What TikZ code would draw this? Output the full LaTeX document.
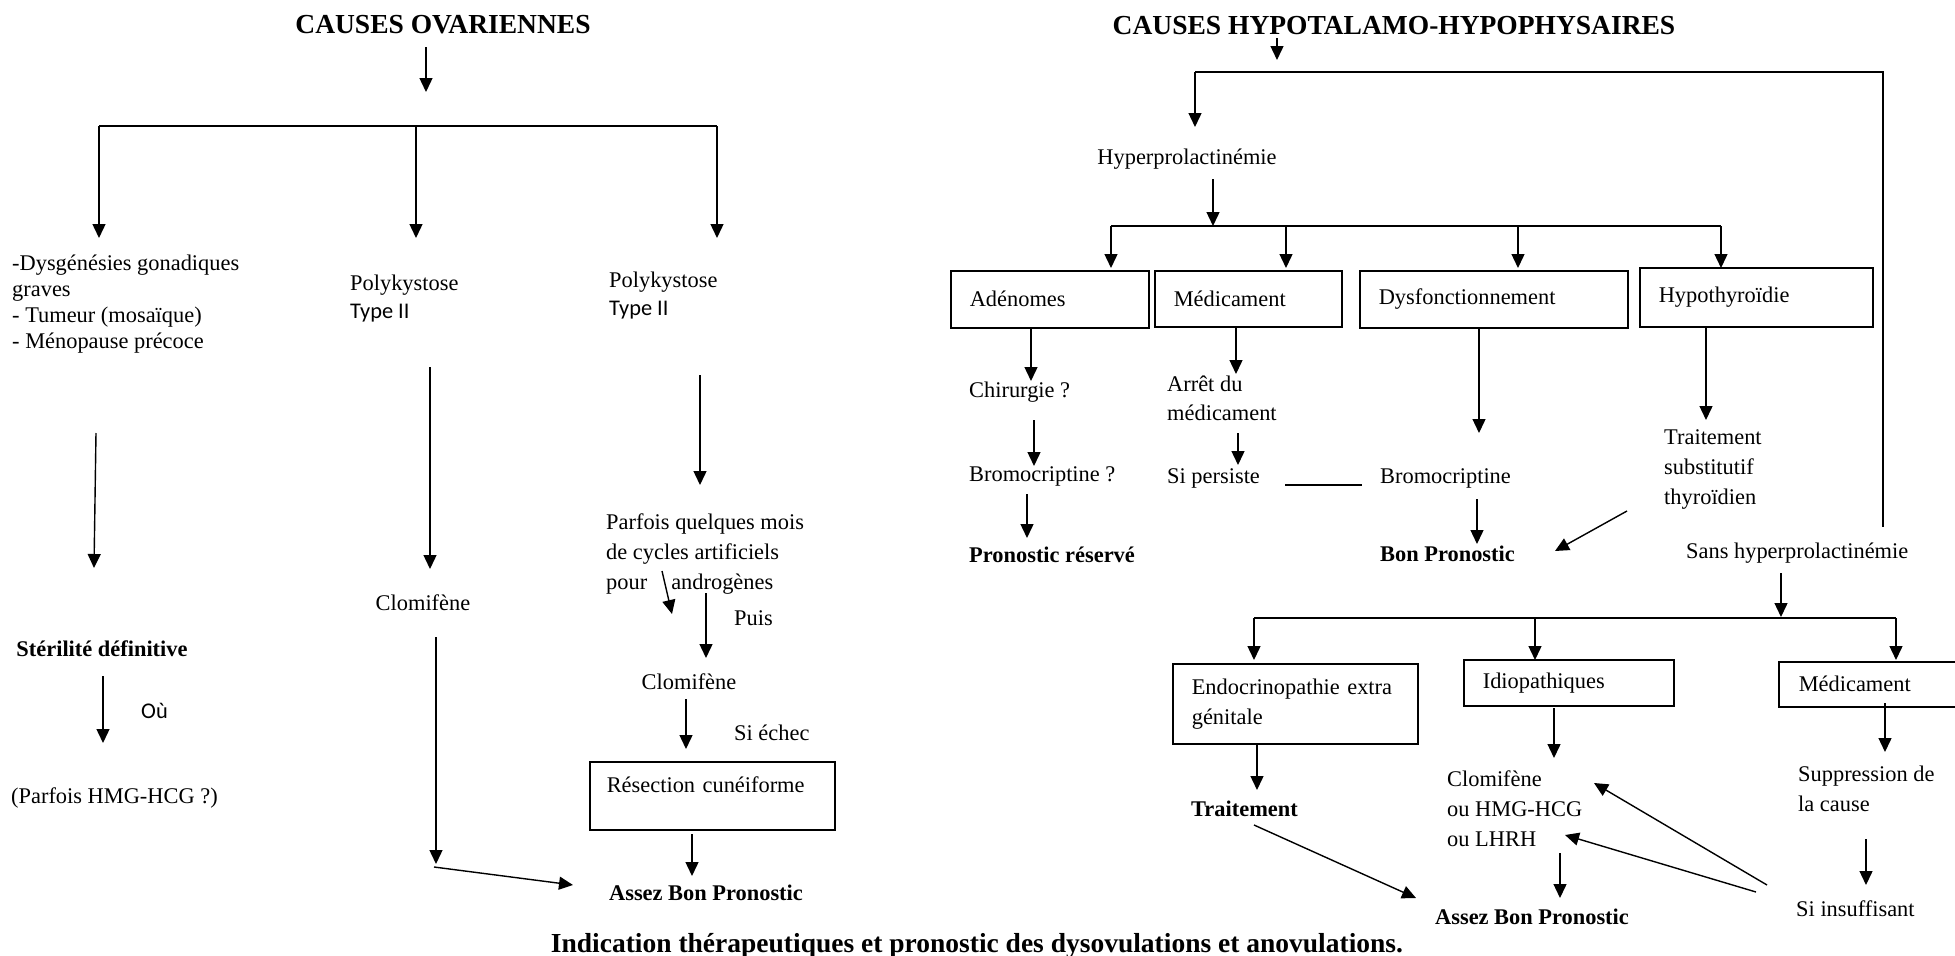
\documentclass[tikz,border=0pt]{standalone}
\usepackage{fontspec}
\setmainfont{Liberation Serif}
\newfontfamily\calibri{Carlito}
\usetikzlibrary{arrows.meta}
\begin{document}
\begin{tikzpicture}[x=1pt,y=-1pt,
  con/.style={line width=1.4pt,-{Triangle[length=14pt,width=13pt]}},
  bar/.style={line width=1.6pt},
  lbl/.style={inner sep=0pt,anchor=west,align=left,font=\fontsize{22.4}{30}\selectfont,yshift=-1.7pt},
  lblc/.style={lbl,anchor=center},
  bld/.style={lbl,font=\bfseries\fontsize{22.4}{30}\selectfont},
  bldc/.style={bld,anchor=center},
  ttl/.style={inner sep=0pt,font=\bfseries\fontsize{27.5}{33}\selectfont},
  bx/.style={draw,line width=1.6pt,anchor=north west,inner xsep=19pt,inner ysep=0pt,
    align=left,font=\fontsize{22.4}{30}\selectfont}]
\useasboundingbox (0,0) rectangle (1955,956);
\clip (0,0) rectangle (1955,956);

% ---------------- Causes ovariennes ----------------
\node[ttl] (t1) at (443,25) {CAUSES OVARIENNES};
\coordinate (t1a) at (426,47); \coordinate (t1b) at (426,92);
\draw[con] (t1a) -- (t1b);

\coordinate (ob1) at (99,126); \coordinate (ob2) at (416,126); \coordinate (ob3) at (717,126);
\coordinate (od1) at (99,238); \coordinate (od2) at (416,238); \coordinate (od3) at (717,238);
\draw[bar] (ob1) -- (ob3);
\draw[con] (ob1) -- (od1);
\draw[con] (ob2) -- (od2);
\draw[con] (ob3) -- (od3);

\node[lbl,font=\fontsize{22.4}{26}\selectfont] (dys) at (12,302)
  {-Dysgénésies gonadiques\\graves\\- Tumeur (mosaïque)\\- Ménopause précoce};
\node[lbl,font=\fontsize{22.4}{28}\selectfont] (pk1) at (350,297) {Polykystose\\{\calibri Type II}};
\node[lbl,font=\fontsize{22.4}{28}\selectfont] (pk2) at (609,294) {Polykystose\\{\calibri Type II}};

% left column
\coordinate (la) at (96,433); \coordinate (lb) at (94,568);
\draw[con] (la) -- (lb);
\node[bldc] (ster) at (102,647) {Stérilité définitive};
\coordinate (lc) at (103,676); \coordinate (ld) at (103,743);
\draw[con] (lc) -- (ld);
\node[lbl,font=\calibri\fontsize{22.4}{30}\selectfont] (ou) at (141,709) {Où};
\node[lbl] (hmg) at (11,796) {(Parfois HMG-HCG ?)};

% middle column
\coordinate (ma) at (430,367); \coordinate (mb) at (430,569);
\draw[con] (ma) -- (mb);
\node[lblc] (clo1) at (423,601) {Clomifène};
\coordinate (mc) at (436,637); \coordinate (md) at (436,864);
\draw[con] (mc) -- (md);
\coordinate (me) at (434,867); \coordinate (mf) at (573,885);
\draw[con] (me) -- (mf);

% right column
\coordinate (ra) at (700,375); \coordinate (rb) at (700,485);
\draw[con] (ra) -- (rb);
\node[lbl] (parf) at (606,552)
  {Parfois quelques mois\\de cycles artificiels\\pour\hspace{24pt}androgènes};
\coordinate (rc) at (662,571); \coordinate (rd) at (672,614);
\draw[con] (rc) -- (rd);
\coordinate (re) at (706,593); \coordinate (rf) at (706,658);
\draw[con] (re) -- (rf);
\node[lbl] (puis) at (734,616) {Puis};
\node[lblc] (clo2) at (689,680) {Clomifène};
\coordinate (rg) at (686,699); \coordinate (rh) at (686,749);
\draw[con] (rg) -- (rh);
\node[lbl] (sie) at (734,731) {Si échec};
\node[bx,inner xsep=17pt,text width=211pt,text height=31pt,text depth=37pt] (res) at (589,761)
  {Résection cunéiforme};
\coordinate (ri) at (692,834); \coordinate (rj) at (692,876);
\draw[con] (ri) -- (rj);
\node[bldc] (abp1) at (706,891) {Assez Bon Pronostic};

% ---------------- Causes hypothalamo-hypophysaires ----------------
\node[ttl] (t2) at (1394,26) {CAUSES HYPOTALAMO-HYPOPHYSAIRES};
\coordinate (t2a) at (1277,38); \coordinate (t2b) at (1277,60);
\draw[con] (t2a) -- (t2b);

\coordinate (hb1) at (1195,72); \coordinate (hb2) at (1883,72);
\coordinate (hd1) at (1195,127); \coordinate (hd2) at (1883,527);
\draw[bar] (hd1 |- hb1) -- (hb2) -- (hd2);
\draw[con] (hb1) -- (hd1);

\node[lblc] (hyp) at (1187,157) {Hyperprolactinémie};
\coordinate (ha) at (1213,179); \coordinate (hc) at (1213,226);
\draw[con] (ha) -- (hc);

\coordinate (pb1) at (1111,226); \coordinate (pb2) at (1286,226);
\coordinate (pb3) at (1518,226); \coordinate (pb4) at (1721,226);
\draw[bar] (pb1) -- (pb4);
\coordinate (pd1) at (1111,268); \coordinate (pd2) at (1286,268);
\coordinate (pd3) at (1518,268); \coordinate (pd4) at (1721,268);
\draw[con] (pb1) -- (pd1);
\draw[con] (pb2) -- (pd2);
\draw[con] (pb3) -- (pd3);
\draw[con] (pb4) -- (pd4);

\node[bx,text width=160pt,minimum height=57pt] (aden) at (950,270) {Adénomes};
\node[bx,text width=149pt,minimum height=56pt] (med1) at (1154,270) {Médicament};
\node[bx,text width=230pt,minimum height=57pt] (dysf) at (1359,270) {Dysfonctionnement};
\node[bx,text width=195pt,minimum height=59pt] (hypo) at (1639,267) {Hypothyroïdie};

% Adénomes
\coordinate (a1) at (1031,329); \coordinate (a2) at (1031,381);
\draw[con] (a1) -- (a2);
\node[lbl] (chir) at (969,390) {Chirurgie ?};
\coordinate (a3) at (1034,420); \coordinate (a4) at (1034,466);
\draw[con] (a3) -- (a4);
\node[lbl] (bro1) at (969,475) {Bromocriptine ?};
\coordinate (a5) at (1027,494); \coordinate (a6) at (1027,538);
\draw[con] (a5) -- (a6);
\node[bld] (pres) at (969,553) {Pronostic réservé};

% Médicament
\coordinate (m1) at (1236,326); \coordinate (m2) at (1236,374);
\draw[con] (m1) -- (m2);
\node[lbl,font=\fontsize{22.4}{29}\selectfont] (arr) at (1167,397) {Arrêt du\\médicament};
\coordinate (m3) at (1238,433); \coordinate (m4) at (1238,465);
\draw[con] (m3) -- (m4);
\node[lbl] (sip) at (1167,477) {Si persiste};
\coordinate (m5) at (1285,485); \coordinate (m6) at (1362,485);
\draw[line width=1.8pt] (m5) -- (m6);
\node[lbl] (bro2) at (1380,477) {Bromocriptine};

% Dysfonctionnement
\coordinate (d1) at (1479,329); \coordinate (d2) at (1479,433);
\draw[con] (d1) -- (d2);
\coordinate (d3) at (1477,499); \coordinate (d4) at (1477,544);
\draw[con] (d3) -- (d4);
\node[bld] (bonp) at (1380,552) {Bon Pronostic};

% Hypothyroïdie
\coordinate (y1) at (1706,327); \coordinate (y2) at (1706,420);
\draw[con] (y1) -- (y2);
\node[lbl] (trs) at (1664,468) {Traitement\\substitutif\\thyroïdien};
\coordinate (y3) at (1627,511); \coordinate (y4) at (1555,551);
\draw[con] (y3) -- (y4);

% Sans hyperprolactinémie
\node[lbl] (sans) at (1686,551) {Sans hyperprolactinémie};
\coordinate (s1) at (1781,573); \coordinate (s2) at (1781,617);
\draw[con] (s1) -- (s2);
\coordinate (sb1) at (1254,618); \coordinate (sb2) at (1535,618); \coordinate (sb3) at (1896,618);
\draw[bar] (sb1) -- (sb3);
\coordinate (sd1) at (1254,660); \coordinate (sd2) at (1535,660); \coordinate (sd3) at (1896,660);
\draw[con] (sb1) -- (sd1);
\draw[con] (sb2) -- (sd2);
\draw[con] (sb3) -- (sd3);

\node[bx,text width=207pt,minimum height=80pt] (endo) at (1172,663) {Endocrinopathie extra\\génitale};
\node[bx,text width=172pt,minimum height=46pt] (idio) at (1463,659) {Idiopathiques};
\node[bx,inner xsep=20pt,text width=170pt,minimum height=45pt] (med2) at (1778,661) {Médicament};

\coordinate (e1) at (1257,745); \coordinate (e2) at (1257,790);
\draw[con] (e1) -- (e2);
\node[bld] (trt) at (1191,807) {Traitement};
\coordinate (e3) at (1254,825); \coordinate (e4) at (1416,898);
\draw[con] (e3) -- (e4);

\coordinate (i1) at (1554,708); \coordinate (i2) at (1554,758);
\draw[con] (i1) -- (i2);
\node[lbl] (clo3) at (1447,807) {Clomifène\\ou HMG-HCG\\ou LHRH};
\coordinate (i3) at (1560,853); \coordinate (i4) at (1560,898);
\draw[con] (i3) -- (i4);
\node[bldc] (abp2) at (1532,915) {Assez Bon Pronostic};

\coordinate (c1) at (1885,703); \coordinate (c2) at (1885,752);
\draw[con] (c1) -- (c2);
\node[lbl] (supp) at (1798,787) {Suppression de\\la cause};
\coordinate (c3) at (1866,839); \coordinate (c4) at (1866,885);
\draw[con] (c3) -- (c4);
\node[lbl] (sins) at (1796,907) {Si insuffisant};
\coordinate (c5) at (1767,885); \coordinate (c6) at (1594,783);
\draw[con] (c5) -- (c6);
\coordinate (c7) at (1756,892); \coordinate (c8) at (1565,835);
\draw[con] (c7) -- (c8);

% caption
\node[ttl] (cap) at (977,946) {Indication thérapeutiques et pronostic des dysovulations et anovulations.};
\end{tikzpicture}
\end{document}
